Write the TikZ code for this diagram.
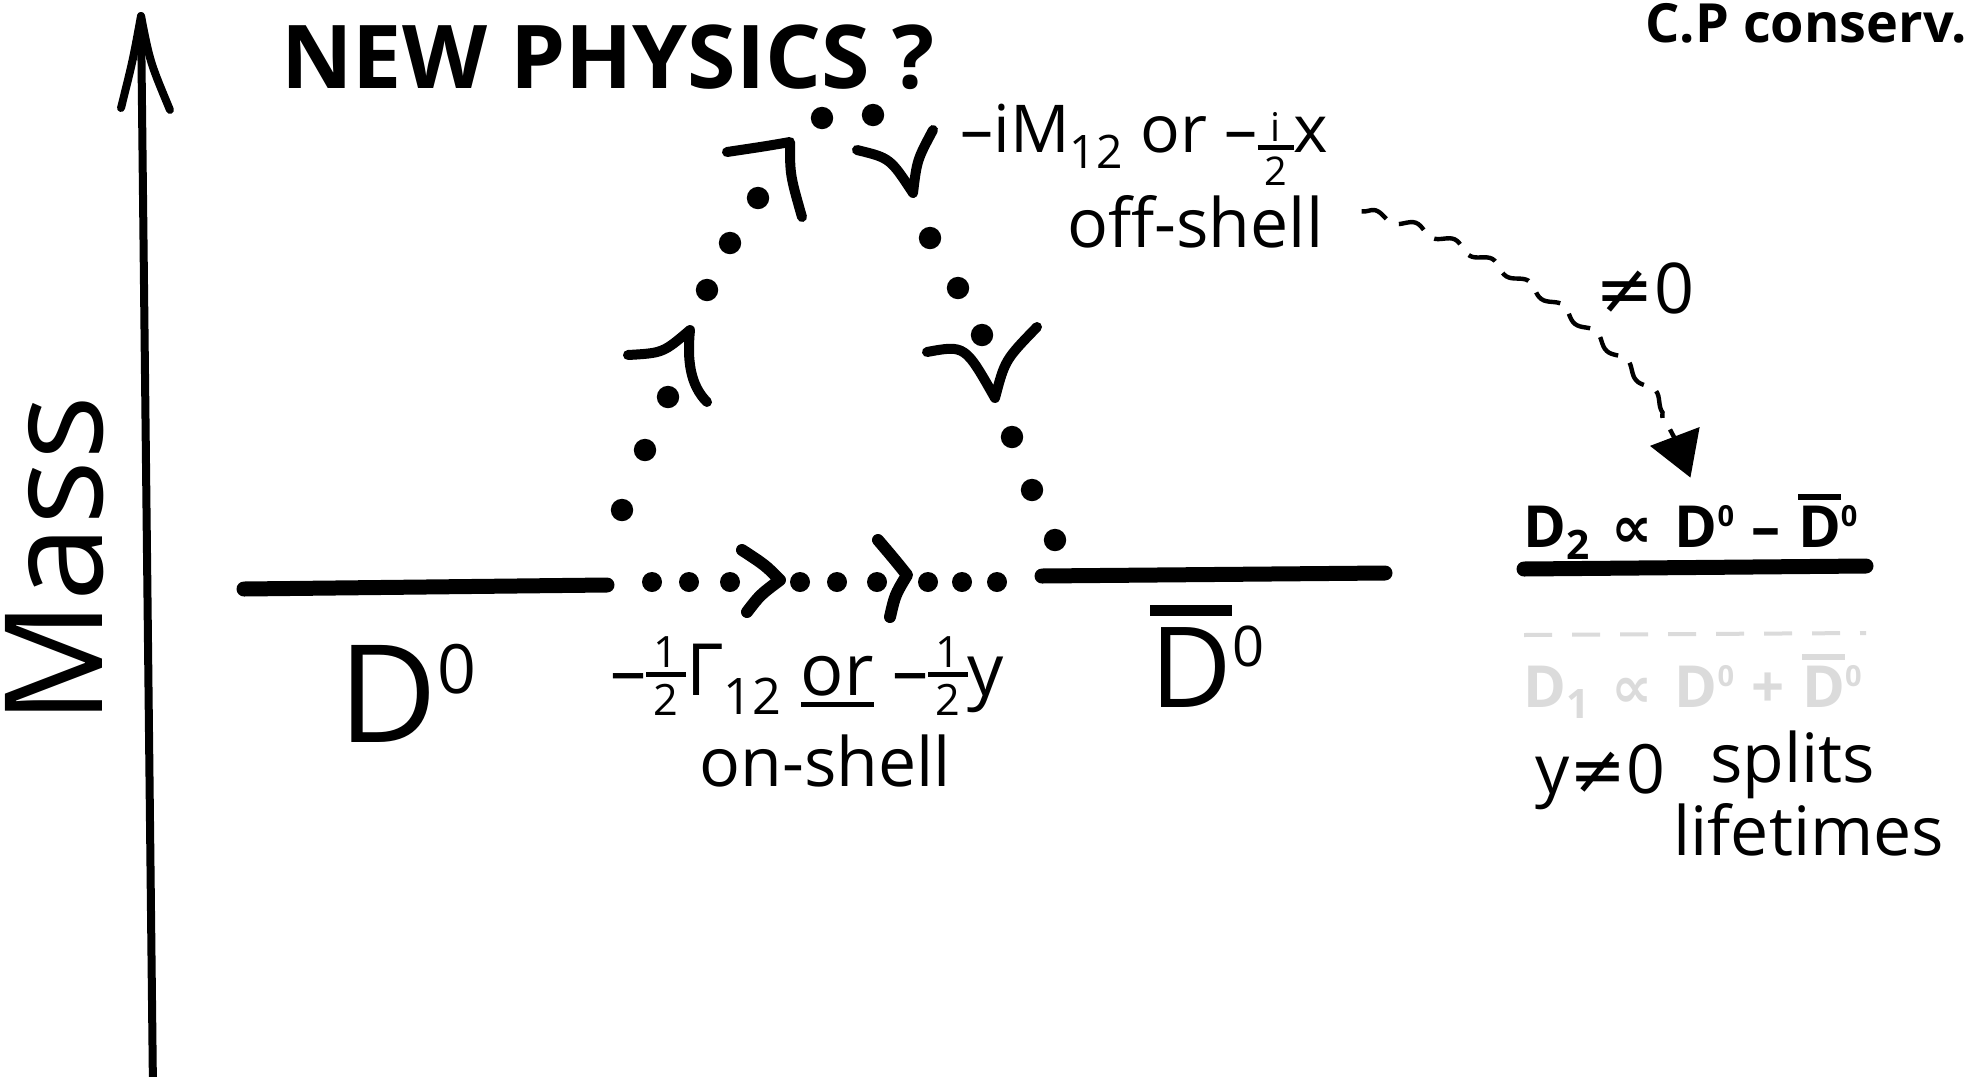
\documentclass[tikz,border=0pt]{standalone}
\usepackage{fontspec}
\setmainfont{Open Sans}
\newfontfamily\symf{DejaVu Sans}
\usepackage{graphicx}
\usetikzlibrary{arrows.meta,decorations.pathmorphing}

\newcommand\supo{\raisebox{0.36em}{\scalebox{0.5}{0}}}
\newcommand\Dbar{\mbox{\sbox0{D}\rlap{\raisebox{\dimexpr\ht0+0.1em\relax}{\rule{\wd0}{0.1em}}}\usebox0}}
\newcommand\ulbar[1]{\mbox{\sbox0{#1}\rlap{\raisebox{-0.17em}{\rule{\wd0}{0.07em}}}\usebox0}}
\newcommand\hfr[3]{\raisebox{#1}{\vbox{\hbox to .55em{\hss\scalebox{.6}{#2}\hss}\kern.06em\hrule height .07em\kern.1em\hbox to .55em{\hss\scalebox{.6}{#3}\hss}}}}

\tikzset{
  big/.style={font=\fontsize{#1}{#1}\bfseries\selectfont, inner sep=0pt},
  hand/.style={font=\fontsize{#1}{#1}\selectfont, inner sep=0pt},
  lvl/.style={line width=7.5pt, line cap=round},
  axisline/.style={line width=4pt, line cap=round, line join=round},
  chev/.style={line width=5pt, line cap=round, line join=round},
  bchev/.style={line width=6pt, line cap=round, line join=round},
  wavy/.style={line width=2.2pt, dash pattern=on 14pt off 7pt,
    decorate, decoration={snake, amplitude=2pt, segment length=21pt, post length=18pt},
    -{Triangle[length=22pt,width=26pt]}},
}

\begin{document}
\begin{tikzpicture}[x=0.5pt,y=-0.5pt]
\useasboundingbox (0,0) rectangle (1983,1077);
\fill[white] (0,0) rectangle (1983,1077);

% mass axis
\coordinate (axb) at (153,1090);
\coordinate (axt) at (141,16);
\coordinate (axl) at (121,108);
\coordinate (axr) at (170,110);
\draw[axisline] (axb) -- (axt);
\draw[axisline] (axl) .. controls (133,60) .. (axt) .. controls (150,62) .. (axr);
\node[hand=68, rotate=90, anchor=base] (mass) at (102,560) {Mass};

% titles
\node[big=44, anchor=base west] (np) at (281,88) {NEW PHYSICS ?};
\node[big=27, anchor=base west] (cp) at (1645,42) {C.P conserv.};

% levels
\coordinate (d0a) at (244,589);
\coordinate (d0b) at (607,585);
\coordinate (dba) at (1042,576);
\coordinate (dbb) at (1385,573);
\coordinate (d2a) at (1524,569);
\coordinate (d2b) at (1866,566);
\coordinate (d1a) at (1524,635);
\coordinate (d1b) at (1866,633);
\draw[lvl] (d0a) -- (d0b);
\draw[lvl] (dba) -- (dbb);
\draw[lvl] (d2a) -- (d2b);
\draw[black!14, line width=2pt, dash pattern=on 14pt off 10pt] (d1a) -- (d1b);

\node[hand=68, anchor=base west] (d0lab) at (338,742) {D\supo};
\node[hand=56, anchor=base west] (dblab) at (1150,707) {\Dbar\supo};

% arch of dots
\foreach \x/\y in {622/510,645/450,668/397,707/290,730/243,758/198,822/118,873/115,930/238,958/288,982/335,1012/437,1032/490,1055/540}
  \fill (\x,\y) circle (5.6pt);
\draw[chev] (628,355) .. controls (663,353) .. (690,330) .. controls (687,360) and (690,385) .. (707,402);
\draw[chev] (727,152) .. controls (767,146) .. (790,142) .. controls (790,175) .. (802,217);
\draw[chev] (857,150) .. controls (890,158) .. (913,193) .. controls (917,160) .. (933,130);
\draw[chev] (927,352) .. controls (965,345) .. (995,398) .. controls (1005,360) .. (1037,327);

% bottom dotted line
\foreach \x in {652,689,730,800,837,877,928,962,997}
  \fill (\x,582) circle (5pt);
\draw[bchev] (742,550) .. controls (765,565) .. (780,580) .. controls (760,595) .. (747,612);
\draw[bchev] (878,540) .. controls (895,560) .. (907,575) .. controls (895,595) .. (890,617);

% labels
\node[hand=33, anchor=base west] (offM) at (960,152) {–iM\textsubscript{12} or –\hfr{-0.5em}{i}{2}x};
\node[hand=34, anchor=base west] (offshell) at (1067,247) {off-shell};
\node[hand=36, anchor=base west] (gam) at (610,695) {–\hfr{-0.28em}{1}{2}Γ\textsubscript{12} \ulbar{or} –\hfr{-0.28em}{1}{2}y};
\node[hand=34, anchor=base] (onshell) at (825,786) {on-shell};
\node[hand=35] (neq) at (1645,288) {{\symf ≠}0};

\node[big=29, anchor=base west] (d2lab) at (1523,547) {D\textsubscript{2}\hspace{0.37em}{\symf ∝}\hspace{0.37em}D\supo\hspace{0.3em}–\hspace{0.3em}\Dbar\supo};
\node[big=29, anchor=base west, text=black!14] (d1lab) at (1523,707) {D\textsubscript{1}\hspace{0.37em}{\symf ∝}\hspace{0.37em}D\supo\hspace{0.3em}+\hspace{0.3em}\Dbar\supo};

\node[hand=34, anchor=base west] (yneq) at (1535,793) {y{\symf ≠}0};
\node[hand=34, anchor=base west] (splits) at (1710,782) {splits};
\node[hand=34, anchor=base west] (life) at (1673,855) {lifetimes};

% wavy arrow
\draw[wavy] ([xshift=19pt,yshift=5pt]offshell.east) .. controls (1470,235) and (1660,360) .. ([yshift=8pt]d2lab.north);
\end{tikzpicture}
\end{document}
